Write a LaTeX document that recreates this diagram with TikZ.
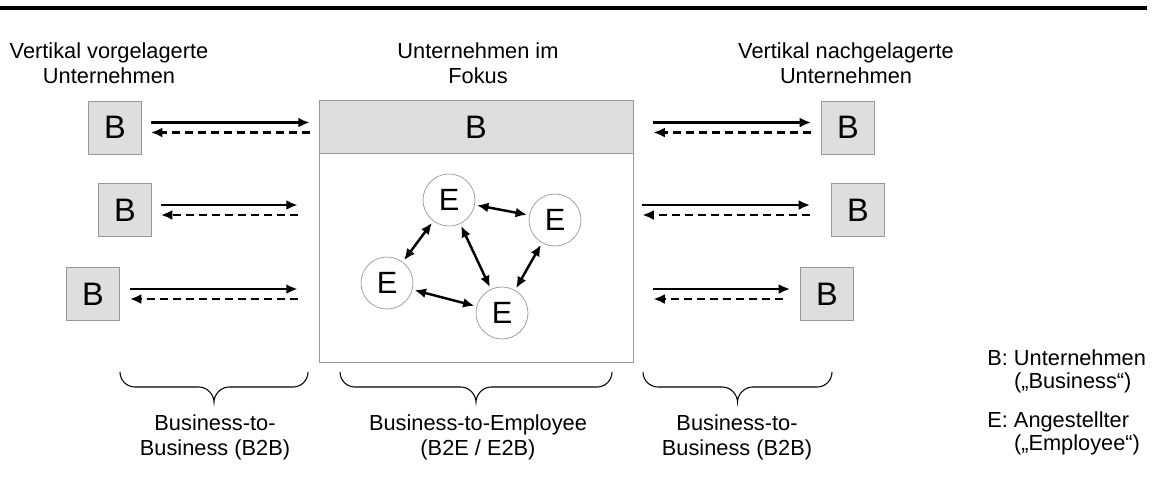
\documentclass[tikz,border=0pt]{standalone}
\usepackage{fontspec}
\setmainfont{Liberation Sans}
\usetikzlibrary{positioning, calc, arrows.meta}

\tikzset{
    bbox/.style={draw=black!40, fill=black!13, minimum size=1.06cm, inner sep=0pt, font=\fontsize{18.5}{20}\selectfont},
    emp/.style={circle, draw=black!40, fill=white, minimum size=1.04cm, inner sep=0pt, font=\fontsize{17.5}{19}\selectfont},
    hin/.style={-{Latex[length=6.5pt, width=5.6pt]}, line width=1.4pt},
    rueck/.style={-{Latex[length=6.5pt, width=5.6pt]}, line width=1.3pt, dash pattern=on 4.6pt off 2.8pt},
    beide/.style={{Latex[length=6.5pt, width=5.6pt]}-{Latex[length=6.5pt, width=5.6pt]}, line width=1.4pt, shorten <=1.2pt, shorten >=1.2pt},
    klammer/.style={line width=0.6pt},
}

% geschweifte Klammer nach unten: links, rechts, oben
\newcommand{\klammer}[3]{%
    \draw[klammer] (#1,#3) .. controls (#1,#3+8.3) and (#1+6.7,#3+15) .. (#1+15,#3+15)
        -- ({(#1+#2)/2-15},#3+15) .. controls ({(#1+#2)/2-6.7},#3+15) and ({(#1+#2)/2},#3+22.7) .. ({(#1+#2)/2},#3+30)
        .. controls ({(#1+#2)/2},#3+22.7) and ({(#1+#2)/2+6.7},#3+15) .. ({(#1+#2)/2+15},#3+15)
        -- (#2-15,#3+15) .. controls (#2-6.7,#3+15) and (#2,#3+8.3) .. (#2,#3);}

\begin{document}
\begin{tikzpicture}[x=0.02cm, y=-0.02cm, font=\fontsize{12.4}{14.2}\selectfont]

        \useasboundingbox (0,0) rectangle (1152,485);
        \draw[line width=2pt] (0,8) -- (1147,8);

        % Ueberschriften
        \node[align=center] (vor)   at (109,63)  {Vertikal vorgelagerte\\Unternehmen};
        \node[align=center] (mitte) at (478,63)  {Unternehmen im\\Fokus};
        \node[align=center] (nach)  at (846,63)  {Vertikal nachgelagerte\\Unternehmen};

        % Unternehmen im Fokus
        \node[draw=black!40, fill=white, minimum width=6.28cm, minimum height=5.22cm] (fokus) at (476,231.5) {};
        \node[bbox, minimum width=6.28cm] (kopf) at (476,127) {B};

        \node[emp] (e1) at (449,200) {E};
        \node[emp] (e2) at (555,220) {E};
        \node[emp] (e3) at (387,283) {E};
        \node[emp] (e4) at (502,313) {E};

        \draw[beide] (e1) -- (e2);
        \draw[beide] (e1) -- (e3);
        \draw[beide] (e1) -- (e4);
        \draw[beide] (e2) -- (e4);
        \draw[beide] (e3) -- (e4);

        % vorgelagert
        \node[bbox] (bl1) at (115,127.5) {B};
        \node[bbox] (bl2) at (125,210)   {B};
        \node[bbox] (bl3) at (93,294)    {B};

        \draw[hin]   ($(bl1.east)+(9,-5)$) -- ($(bl1.east -| fokus.west)+(-9,-5)$);
        \draw[rueck] ($(bl1.east -| fokus.west)+(-9,5)$) -- ($(bl1.east)+(9,5)$);
        \draw[hin]   ($(bl2.east)+(9,-5)$) -- ($(bl2.east -| fokus.west)+(-21,-5)$);
        \draw[rueck] ($(bl2.east -| fokus.west)+(-21,5)$) -- ($(bl2.east)+(9,5)$);
        \draw[hin]   ($(bl3.east)+(10,-5)$) -- ($(bl3.east -| fokus.west)+(-21,-5)$);
        \draw[rueck] ($(bl3.east -| fokus.west)+(-21,5)$) -- ($(bl3.east)+(10,5)$);

        % nachgelagert
        \node[bbox] (br1) at (848,127.5) {B};
        \node[bbox] (br2) at (858,210)   {B};
        \node[bbox] (br3) at (827,294)   {B};

        \draw[hin]   ($(br1.west -| fokus.east)+(20,-5)$) -- ($(br1.west)+(-10,-5)$);
        \draw[rueck] ($(br1.west)+(-10,5)$) -- ($(br1.west -| fokus.east)+(20,5)$);
        \draw[hin]   ($(br2.west -| fokus.east)+(9,-5)$) -- ($(br2.west)+(-21,-5)$);
        \draw[rueck] ($(br2.west)+(-21,5)$) -- ($(br2.west -| fokus.east)+(9,5)$);
        \draw[hin]   ($(br3.west -| fokus.east)+(20,-5)$) -- ($(br3.west)+(-10,-5)$);
        \draw[rueck] ($(br3.west)+(-17,5)$) -- ($(br3.west -| fokus.east)+(20,5)$);

        % Klammern
        \klammer{120}{308}{372}
        \klammer{340}{612}{372}
        \klammer{643}{832}{372}

        \node[align=center] (b2b1) at (215,437) {Business-to-\\Business (B2B)};
        \node[align=center] (b2e)  at (478,437) {Business-to-Employee\\(B2E / E2B)};
        \node[align=center] (b2b2) at (737,437) {Business-to-\\Business (B2B)};

        % Legende
        \node[align=left, anchor=west, inner sep=0pt, font=\fontsize{12.4}{13.2}\selectfont] (legb) at (987,371.5) {B: Unternehmen\\\phantom{B: }(„Business“)};
        \node[align=left, anchor=west, inner sep=0pt, font=\fontsize{12.4}{13.2}\selectfont] (lege) at (987,433.5) {E: Angestellter\\\phantom{B: }(„Employee“)};

    \end{tikzpicture}
\end{document}
